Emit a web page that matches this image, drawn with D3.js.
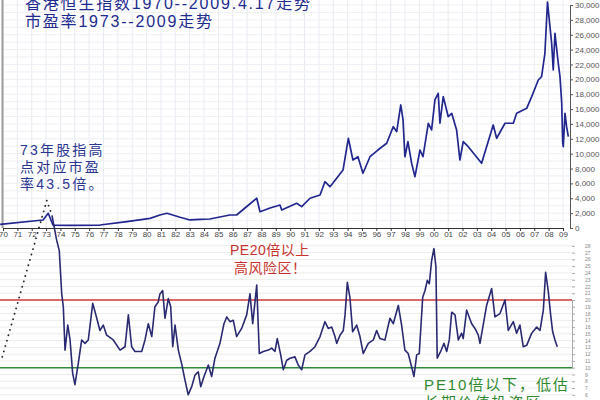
<!DOCTYPE html>
<html><head><meta charset="utf-8">
<script src="https://cdn.jsdelivr.net/npm/d3@7"></script>
<style>
html,body{margin:0;padding:0;background:#fff;}
svg{display:block;font-family:"Liberation Sans","DejaVu Sans",sans-serif;}
</style></head>
<body>
<svg id="c" width="600" height="400"></svg>
<script>
// ---------- DATA ----------
const yearTicks = d3.range(1970, 2010);
const hsiTicks = d3.range(0, 30001, 2000);
const peTicks = d3.range(6, 29);

const hsiYears = [1969.8,1972.79,1973.15,1973.48,1974.67,1976.75,1978.63,1980.24,1980.93,1981.42,1982.33,1983.02,1983.72,1984.4,1985.1,1985.8,1986.27,1986.85,1987.67,1987.9,1988.6,1989.29,1989.41,1990.45,1990.8,1991.38,1992.08,1992.42,1992.77,1992.98,1993.68,1994.05,1994.37,1994.72,1995.07,1995.56,1996.11,1996.72,1997.18,1997.42,1997.7,1997.86,1997.99,1998.2,1998.46,1998.69,1999.04,1999.25,1999.62,1999.85,2000.08,2000.31,2000.43,2000.66,2001.01,2001.25,2001.59,2001.82,2002.05,2002.4,2002.87,2003.33,2003.68,2004.14,2004.38,2004.96,2005.54,2005.77,2006.47,2006.82,2007.28,2007.51,2007.74,2007.92,2008.21,2008.32,2008.44,2008.67,2008.79,2008.91,2008.98,2009.02,2009.14,2009.25,2009.37];
const hsiValues = [500,1080,1980,400,340,400,850,1300,1750,1980,1440,1080,1170,1210,1480,1750,1750,2690,4000,2190,2690,3090,2420,3320,2870,4000,4440,6230,5560,6050,7800,12070,9150,9590,7360,9590,10490,11400,13630,12960,16550,14530,9590,11610,8700,6900,10490,9590,14090,13190,17220,18120,14090,17670,14970,15430,13190,9150,11610,10940,9820,8700,10940,13860,12070,14090,14090,15430,16100,17670,19910,20360,23500,30400,24850,21260,26190,22160,20360,16820,11440,10940,15430,13630,12280];

const peYears = [1973.41,1973.74,1973.92,1974.09,1974.20,1974.32,1974.51,1974.67,1974.85,1975.01,1975.24,1975.48,1975.71,1975.94,1976.25,1976.53,1976.75,1976.98,1977.22,1977.68,1978.15,1978.50,1978.73,1978.96,1979.19,1979.66,1979.89,1980.12,1980.36,1980.58,1980.81,1980.93,1981.12,1981.28,1981.51,1981.68,1981.82,1981.98,1982.21,1982.44,1982.67,1982.90,1983.14,1983.37,1983.60,1983.77,1984.00,1984.30,1984.53,1984.76,1985.11,1985.39,1985.58,1985.81,1986.04,1986.27,1986.62,1986.97,1987.20,1987.39,1987.67,1987.85,1988.13,1988.48,1988.71,1988.94,1989.10,1989.34,1989.52,1989.76,1989.99,1990.33,1990.56,1990.80,1991.03,1991.38,1991.73,1992.08,1992.42,1992.65,1992.89,1993.12,1993.24,1993.47,1993.70,1993.82,1993.98,1994.16,1994.35,1994.63,1994.86,1995.09,1995.44,1995.79,1996.02,1996.25,1996.60,1996.95,1997.18,1997.53,1997.76,1997.99,1998.22,1998.46,1998.62,1998.81,1998.99,1999.23,1999.39,1999.55,1999.69,1999.85,2000.01,2000.15,2000.24,2000.48,2000.71,2000.90,2001.08,2001.25,2001.48,2001.71,2001.94,2002.05,2002.29,2002.64,2002.87,2003.10,2003.22,2003.68,2004.03,2004.26,2004.61,2004.96,2005.19,2005.54,2005.77,2006.00,2006.23,2006.47,2006.82,2007.17,2007.40,2007.63,2007.79,2007.97,2008.14,2008.28,2008.44,2008.60];
const peValues = [32.5,28.8,27.3,20.9,19,12.6,16.3,14.1,9.2,7.5,10.6,14.1,13.6,14.1,19.5,17.3,15.5,16.3,14.8,14.1,12.6,13.1,17.8,13.1,12.4,12.4,14.1,16.5,14.6,19,19.7,20.9,21.4,17.3,20.2,19,13.1,16.3,12.6,10.6,8.2,6,7.2,8.9,9.4,7.2,8.7,10.4,8.7,11.4,13.6,16.5,17.5,16.8,17,14.6,15.8,17.8,20.9,16.5,22.2,12.1,12.4,12.6,12.9,12.4,14.3,11.9,9.7,11.1,11.4,11.6,10.4,9.7,11.9,12.4,13.1,14.6,16.8,15.8,16,14.6,13.6,14.8,15.5,17.8,22.6,20.4,15.3,16.3,14.6,12.1,13.6,14.1,15.5,14.3,14.1,17.3,16.5,19.2,16.3,12.6,12.1,10.1,8.7,11.9,12.1,20.4,21.4,22.9,22.4,25.8,27.6,24.9,11.4,12.4,13.6,12.4,14.1,18.2,17.8,14.1,15.1,14.3,18.5,16.5,15.8,14.8,13.6,19.2,21.7,17.5,18,20,15.5,16.8,15.1,16.3,13.1,13.3,15.1,16,15.5,18.5,24.1,21.4,17.8,15.3,14.1,13.1];

// schematic dotted line toward the 1973 PE peak (43.5)
const pe73Years = [1969.95, 1973.05, 1973.41];
const pe73Values = [11.6, 34.7, 32.5];

const refLines = [20, 10];

// ---------- SCALES ----------
const svg = d3.select("#c");
const x = d3.scaleLinear().domain([1970, 2009]).range([3, 563]);
const yTop = d3.scaleLinear().domain([0, 30000]).range([228, 5]);
const yPE = d3.scaleLinear().domain([10, 20]).range([367.7, 300]);

// ---------- TOP PANEL GRID ----------
const gTop = svg.append("g");
gTop.selectAll("line.vg").data(yearTicks).join("line")
  .attr("x1", d => x(d)).attr("x2", d => x(d))
  .attr("y1", 0).attr("y2", 228)
  .attr("stroke", "#e9ebf2").attr("stroke-width", 1);
gTop.selectAll("line.hg").data(d3.range(1000, 31000, 1000)).join("line")
  .attr("x1", 2).attr("x2", 570)
  .attr("y1", d => yTop(d)).attr("y2", d => yTop(d))
  .attr("stroke", "#eef0f5").attr("stroke-width", 1);
gTop.append("line").attr("x1", 2.5).attr("x2", 2.5).attr("y1", 0).attr("y2", 228)
  .attr("stroke", "#9a9a9a").attr("stroke-width", 2);

// ---------- PE PANEL GRID ----------
svg.append("g").selectAll("line").data(peTicks).join("line")
  .attr("x1", 0).attr("x2", 572)
  .attr("y1", d => yPE(d)).attr("y2", d => yPE(d))
  .attr("stroke", "#ececec").attr("stroke-width", 1);

// ---------- AXES ----------
const xAxis = svg.append("g").attr("transform", "translate(0,228)")
  .call(d3.axisBottom(x).tickValues(yearTicks).tickSize(3).tickSizeOuter(0)
    .tickFormat(d => String(d % 100).padStart(2, "0")));
xAxis.select(".domain").attr("stroke", "#333");
xAxis.selectAll(".tick line").attr("stroke", "#333");
xAxis.selectAll("text").attr("font-size", 8).attr("fill", "#444").attr("y", 4).attr("dy", "0.6em");

const yAxisTop = svg.append("g").attr("transform", "translate(570,0)")
  .call(d3.axisRight(yTop).tickValues(hsiTicks).tickSize(3).tickSizeOuter(0));
yAxisTop.select(".domain").attr("stroke", "#555");
yAxisTop.selectAll(".tick line").attr("stroke", "#555");
yAxisTop.selectAll("text").attr("font-size", 8).attr("fill", "#555").attr("x", 5);

const yAxisPE = svg.append("g").attr("transform", "translate(572,0)")
  .call(d3.axisRight(yPE).tickValues(peTicks).tickSize(3).tickSizeOuter(0));
yAxisPE.select(".domain").attr("stroke", "#aaa");
yAxisPE.selectAll(".tick line").attr("stroke", "#aaa");
yAxisPE.selectAll("text").attr("font-size", 5).attr("fill", "#888").attr("x", 13);

// ---------- REFERENCE LINES ----------
svg.append("g").selectAll("line").data(refLines).join("line")
  .attr("x1", 0).attr("x2", 572)
  .attr("y1", d => yPE(d)).attr("y2", d => yPE(d))
  .attr("stroke", (d, i) => i === 0 ? "#d33a3a" : "#2f8a3a")
  .attr("stroke-width", 1.6);

// ---------- LINES ----------
const hsi = hsiYears.map((y, i) => [y, hsiValues[i]]);
svg.append("path").datum(hsi)
  .attr("d", d3.line().x(d => x(d[0])).y(d => yTop(d[1])))
  .attr("fill", "none").attr("stroke", "#22278f").attr("stroke-width", 1.7)
  .attr("stroke-linejoin", "round");

const pe = peYears.map((y, i) => [y, peValues[i]]);
svg.append("path").datum(pe)
  .attr("d", d3.line().x(d => x(d[0])).y(d => yPE(d[1])))
  .attr("fill", "none").attr("stroke", "#2a2a72").attr("stroke-width", 1.6)
  .attr("stroke-linejoin", "round");

const pe73 = pe73Years.map((y, i) => [y, pe73Values[i]]);
svg.append("path").datum(pe73)
  .attr("d", d3.line().x(d => x(d[0])).y(d => yPE(d[1])))
  .attr("fill", "none").attr("stroke", "#222").attr("stroke-width", 1.8)
  .attr("stroke-dasharray", "0.1,5.5").attr("stroke-linecap", "round");

// ---------- TEXTS ----------
const font = '"Liberation Sans","Noto Sans CJK SC",sans-serif';
const title = svg.append("g").attr("font-family", font).attr("fill", "#1d2a8e")
  .attr("font-size", 16).attr("letter-spacing", 1.8);
title.append("text").attr("x", 25).attr("y", 9).text("香港恒生指数1970--2009.4.17走势");
title.append("text").attr("x", 25).attr("y", 27).text("市盈率1973--2009走势");

const note = svg.append("g").attr("font-family", font).attr("fill", "#2b3592")
  .attr("font-size", 14).attr("letter-spacing", 2.2);
["73年股指高", "点对应市盈", "率43.5倍。"].forEach((t, i) =>
  note.append("text").attr("x", 20).attr("y", 155 + i * 17).text(t));

const red = svg.append("g").attr("font-family", font).attr("fill", "#c8322f")
  .attr("font-size", 14).attr("letter-spacing", 0.5);
red.append("text").attr("x", 230).attr("y", 255).text("PE20倍以上");
red.append("text").attr("x", 234).attr("y", 273).text("高风险区！");

const green = svg.append("g").attr("font-family", font).attr("fill", "#2f8a2f")
  .attr("font-size", 15).attr("letter-spacing", 1.9);
green.append("text").attr("x", 424).attr("y", 390).text("PE10倍以下，低估");
green.append("text").attr("x", 424).attr("y", 408).text("长期价值投资区");
</script>
</body></html>
